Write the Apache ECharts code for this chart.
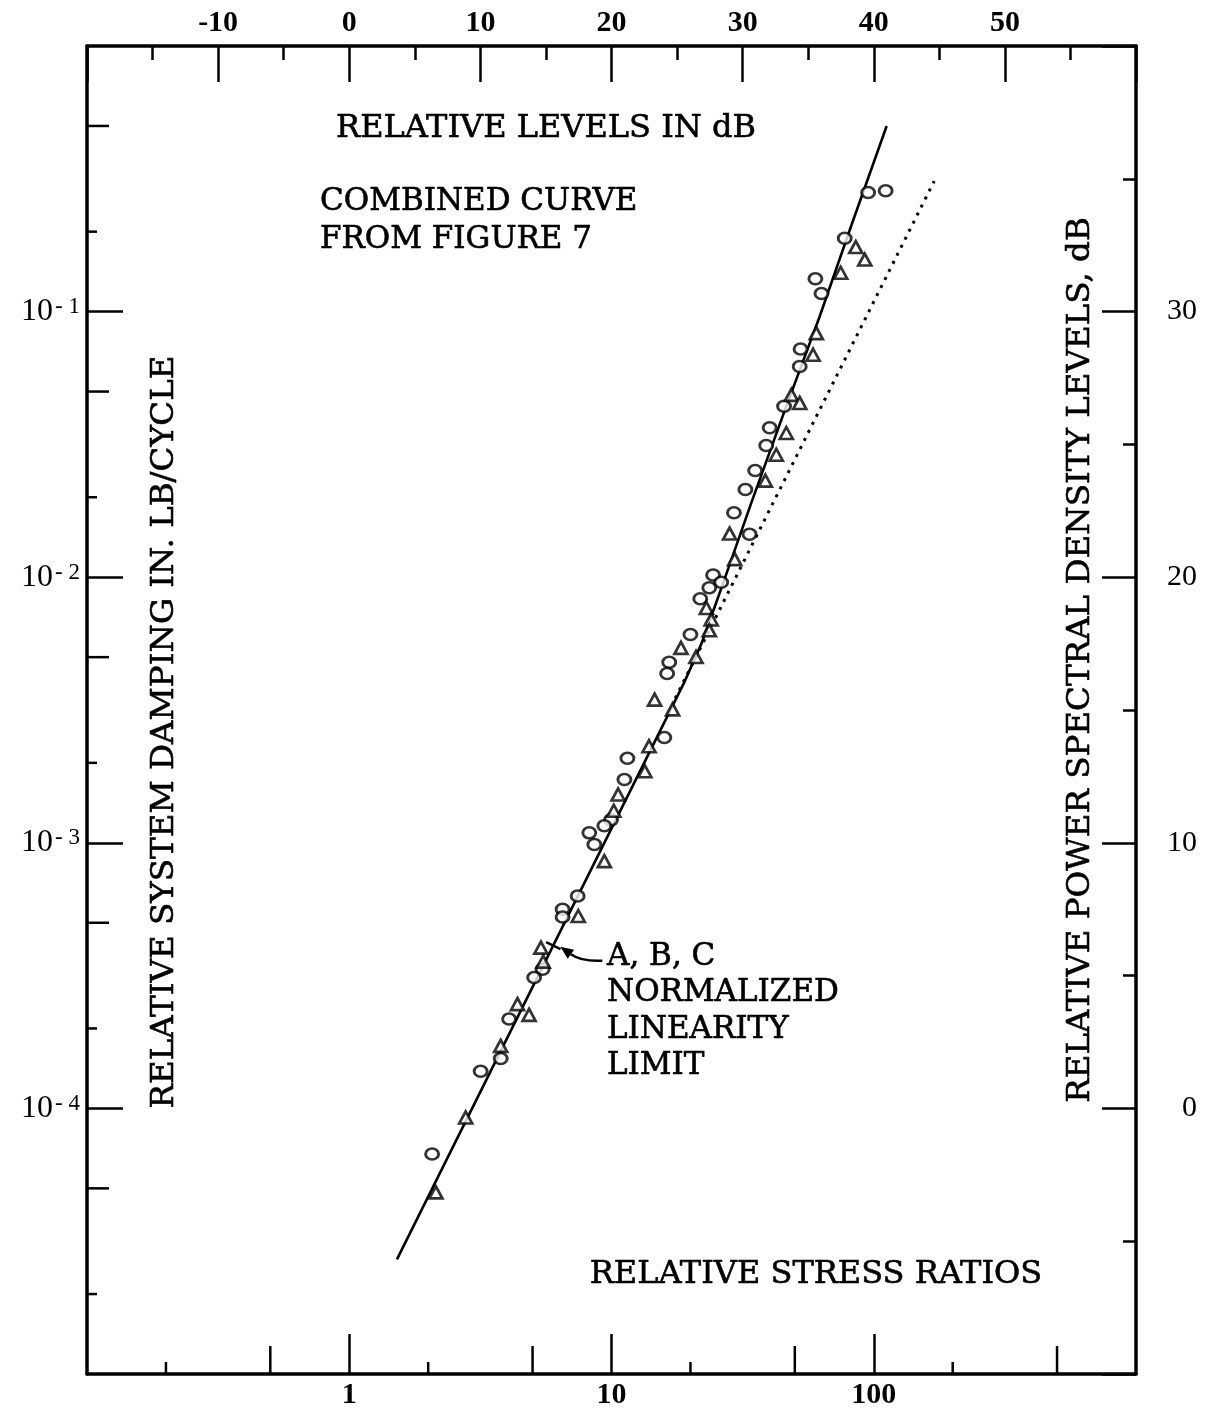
<!DOCTYPE html>
<html>
<head>
<meta charset="utf-8">
<script src="https://cdn.jsdelivr.net/npm/echarts@6/dist/echarts.min.js"></script>
<style>
  html, body { margin: 0; padding: 0; background: #ffffff; }
  #chart { width: 1216px; height: 1410px; }
</style>
</head>
<body>
<div id="chart"></div>
<script>
// Relative system damping versus relative stress ratio (log-log),
// with the equivalent dB scales on the top and right edges.

// Measured points, series 1 (open circles): [stress ratio, damping]
const circlePoints = [
  [95.2, 0.281], [111, 0.285], [77.5, 0.189], [59.9, 0.133], [63.2, 0.117],
  [52.6, 0.0723], [52.2, 0.0621], [45.5, 0.0440], [40.1, 0.0365], [38.9, 0.0313],
  [35.3, 0.0252], [32.4, 0.0214], [29.3, 0.0175], [33.6, 0.0145], [24.4, 0.0102],
  [26.2, 0.00957], [23.6, 0.00912], [21.8, 0.00829], [20.0, 0.00608], [16.6, 0.00478],
  [16.3, 0.00434], [15.9, 0.00249], [11.5, 0.00208], [11.2, 0.00173], [9.96, 0.00122],
  [9.39, 0.00116], [8.23, 0.00109], [8.60, 0.000986], [7.43, 0.000630], [6.51, 0.000562],
  [6.51, 0.000526], [5.46, 0.000334], [5.07, 0.000311], [4.07, 0.000217], [3.78, 0.000154],
  [3.17, 0.000138], [2.07, 0.0000673]
];

// Measured points, series 2 (open triangles): [stress ratio, damping]
const trianglePoints = [
  [85.4, 0.175], [92.4, 0.157], [74.8, 0.140], [60.4, 0.0830], [58.7, 0.0688],
  [48.5, 0.0486], [52.2, 0.0453], [46.4, 0.0349], [42.5, 0.0289], [38.6, 0.0231],
  [28.2, 0.0146], [29.5, 0.0117], [23.0, 0.00766], [24.0, 0.00693], [23.6, 0.00631],
  [18.4, 0.00542], [21.0, 0.00501], [14.6, 0.00346], [17.1, 0.00318], [13.9, 0.00231],
  [13.4, 0.00186], [10.6, 0.00152], [10.2, 0.00132], [9.39, 0.000853], [7.47, 0.000530],
  [5.38, 0.000403], [5.49, 0.000357], [4.38, 0.000247], [4.85, 0.000225], [3.78, 0.000172],
  [2.78, 0.0000924], [2.14, 0.0000483]
];

// Combined curve through the data
const combinedCurve = [
  [1.52, 2.7e-5], [18.9, 4.0e-3], [22.0, 5.6e-3], [25.5, 8.4e-3], [34.1, 1.9e-2],
  [45.6, 4.2e-2], [62, 9.5e-2], [82, 0.21], [112, 0.50]
];

// Straight (slope 2) continuation of the linear range
const linearExtension = [[17.5, 3.5e-3], [170, 0.31]];

// Normalized linearity limit marked on the curve
const linearityLimit = [6.0, 4.1e-4];

// Axis ranges
const stressRange = [0.1, 1000];     // bottom, log
const dampingRange = [1e-5, 1];      // left, log
const levelRange = [-20, 60];        // top, dB
const psdRange = [-10, 40];          // right, dB

// Intermediate tick values on the logarithmic axes
const stressMinorTicks = [0.2, 0.5, 2, 5, 20, 50, 200, 500];
const dampingMinorTicks = [2e-5, 5e-5, 2e-4, 5e-4, 2e-3, 5e-3, 2e-2, 5e-2, 2e-1, 5e-1];

const INK = '#000000';
const LABEL_FONT = '"Liberation Serif", "Times New Roman", serif';
const TEXT_FONT = '"DejaVu Serif", serif';

const chart = echarts.init(document.getElementById('chart'), null, { renderer: 'canvas' });

function mantissa(v) {
  const e = Math.floor(Math.log10(v) + 1e-9);
  return Math.round(v / Math.pow(10, e));
}

const axisLineStyle = { color: INK, width: 3.5 };
const tickLineStyle = { color: INK, width: 2.5 };

function caption(text, x, y, size, align, extra) {
  return Object.assign({
    type: 'text', x: x, y: y, silent: true,
    style: {
      text: text, font: size + 'px ' + TEXT_FONT, fill: INK,
      stroke: INK, lineWidth: 0.6,
      align: align, verticalAlign: 'middle'
    }
  }, extra || {});
}

const option = {
  backgroundColor: '#ffffff',
  animation: false,
  grid: { left: 87, right: 80, top: 46, bottom: 35, containLabel: false },
  xAxis: [
    {
      type: 'log', logBase: 10, position: 'bottom',
      min: stressRange[0], max: stressRange[1],
      axisLine: { show: true, onZero: false, lineStyle: axisLineStyle },
      axisTick: { show: true, inside: true, length: 40, lineStyle: tickLineStyle },
      splitLine: { show: false },
      axisLabel: {
        show: true, margin: 6, color: INK, fontSize: 30, fontWeight: 'bold', fontFamily: LABEL_FONT,
        showMinLabel: false, showMaxLabel: false,
        formatter: v => String(Math.round(v))
      }
    },
    {
      type: 'value', position: 'top',
      min: levelRange[0], max: levelRange[1], interval: 10,
      axisLine: { show: true, onZero: false, lineStyle: axisLineStyle },
      axisTick: { show: true, inside: true, length: 36, lineStyle: tickLineStyle },
      minorTick: { show: true, splitNumber: 2, length: 14, lineStyle: tickLineStyle },
      splitLine: { show: false },
      axisLabel: {
        show: true, margin: 8, color: INK, fontSize: 30, fontWeight: 'bold', fontFamily: LABEL_FONT,
        showMinLabel: false, showMaxLabel: false
      }
    }
  ],
  yAxis: [
    {
      type: 'log', logBase: 10, position: 'left',
      min: dampingRange[0], max: dampingRange[1],
      axisLine: { show: true, onZero: false, lineStyle: axisLineStyle },
      axisTick: { show: true, inside: true, length: 36, lineStyle: tickLineStyle },
      splitLine: { show: false },
      axisLabel: {
        show: true, margin: 7, color: INK, fontFamily: LABEL_FONT,
        showMinLabel: false, showMaxLabel: false,
        formatter: v => {
          const e = Math.round(Math.log10(v));
          return '{b|10}{s|' + (e < 0 ? '- ' + (-e) : String(e)) + '}';
        },
        rich: {
          b: { fontSize: 32, fontFamily: LABEL_FONT, color: INK, verticalAlign: 'bottom' },
          s: { fontSize: 23, fontFamily: LABEL_FONT, color: INK, verticalAlign: 'top', padding: [0, 0, 0, 2] }
        }
      }
    },
    {
      type: 'value', position: 'right',
      min: psdRange[0], max: psdRange[1], interval: 10,
      axisLine: { show: true, onZero: false, lineStyle: axisLineStyle },
      axisTick: { show: true, inside: true, length: 34, lineStyle: tickLineStyle },
      minorTick: { show: true, splitNumber: 2, length: 13, lineStyle: tickLineStyle },
      splitLine: { show: false },
      axisLabel: {
        show: true, margin: 61, align: 'right', color: INK, fontSize: 30, fontFamily: LABEL_FONT,
        showMinLabel: false, showMaxLabel: false
      }
    }
  ],
  graphic: [
    caption('RELATIVE LEVELS IN dB', 546, 129, 32, 'center'),
    caption('COMBINED CURVE', 320, 202, 31, 'left'),
    caption('FROM FIGURE 7', 320, 240, 31, 'left'),
    caption('RELATIVE STRESS RATIOS', 816, 1275, 32, 'center'),
    caption('A, B, C', 607, 957, 31, 'left'),
    caption('NORMALIZED', 607, 993, 31, 'left'),
    caption('LINEARITY', 607, 1030, 31, 'left'),
    caption('LIMIT', 607, 1066, 31, 'left'),
    caption('RELATIVE SYSTEM DAMPING IN. LB/CYCLE', 165, 732, 32.5, 'center', { rotation: Math.PI / 2 }),
    caption('RELATIVE POWER SPECTRAL DENSITY LEVELS, dB', 1081, 660, 32.5, 'center', { rotation: Math.PI / 2 })
  ],
  series: [
    {
      // intermediate ticks along the bottom (stress ratio) edge
      type: 'custom', xAxisIndex: 0, yAxisIndex: 0, silent: true, z: 5,
      data: stressMinorTicks.map(v => [v, dampingRange[0]]),
      renderItem: (params, api) => {
        const v = api.value(0);
        const p = api.coord([v, api.value(1)]);
        const len = mantissa(v) === 5 ? 28 : 12;
        return { type: 'line', shape: { x1: p[0], y1: p[1], x2: p[0], y2: p[1] - len },
                 style: { stroke: INK, lineWidth: 2.5 } };
      }
    },
    {
      // intermediate ticks along the left (damping) edge
      type: 'custom', xAxisIndex: 0, yAxisIndex: 0, silent: true, z: 5,
      data: dampingMinorTicks.map(v => [stressRange[0], v]),
      renderItem: (params, api) => {
        const v = api.value(1);
        const p = api.coord([api.value(0), v]);
        const len = mantissa(v) === 5 ? 22 : 10;
        return { type: 'line', shape: { x1: p[0], y1: p[1], x2: p[0] + len, y2: p[1] },
                 style: { stroke: INK, lineWidth: 2.5 } };
      }
    },
    {
      name: 'Combined curve', type: 'line', xAxisIndex: 0, yAxisIndex: 0,
      data: combinedCurve, showSymbol: false, smooth: false, silent: true, z: 2,
      lineStyle: { color: INK, width: 2.6 }
    },
    {
      name: 'Linear extension', type: 'line', xAxisIndex: 0, yAxisIndex: 0,
      data: linearExtension, showSymbol: false, silent: true, z: 2,
      lineStyle: { color: INK, width: 3, type: [3, 6] }
    },
    {
      name: 'Circles', type: 'scatter', xAxisIndex: 0, yAxisIndex: 0,
      data: circlePoints, symbol: 'circle', symbolSize: [13, 11], silent: true, z: 4,
      itemStyle: { color: '#ffffff', borderColor: INK, borderWidth: 2.7 }
    },
    {
      name: 'Triangles', type: 'scatter', xAxisIndex: 0, yAxisIndex: 0,
      data: trianglePoints, symbol: 'triangle', symbolSize: [13, 12], silent: true, z: 4,
      itemStyle: { color: '#ffffff', borderColor: INK, borderWidth: 2.7 }
    },
    {
      // linearity-limit mark with its pointer arrow
      type: 'custom', xAxisIndex: 0, yAxisIndex: 0, silent: true, z: 6,
      data: [linearityLimit],
      renderItem: (params, api) => {
        const p = api.coord([api.value(0), api.value(1)]);
        const q = api.coord([api.value(0) * 1.3, api.value(1) * Math.pow(1.3, 2)]);
        let dx = q[0] - p[0], dy = q[1] - p[1];
        const d = Math.hypot(dx, dy); dx /= d; dy /= d;
        const nx = -dy, ny = dx;
        const tip = [p[0] + 7, p[1] + 1];
        const tail = [p[0] + 49, p[1] + 15];
        const ctrl = [p[0] + 28, p[1] + 16];
        let ax = tip[0] - ctrl[0], ay = tip[1] - ctrl[1];
        const ad = Math.hypot(ax, ay); ax /= ad; ay /= ad;
        const hl = 13, hw = 5.5;
        const base = [tip[0] - ax * hl, tip[1] - ay * hl];
        return {
          type: 'group',
          children: [
            { type: 'line', shape: { x1: p[0] - nx * 8, y1: p[1] - ny * 8, x2: p[0] + nx * 8, y2: p[1] + ny * 8 },
              style: { stroke: INK, lineWidth: 2.5 } },
            { type: 'bezierCurve', shape: { x1: tail[0], y1: tail[1], cpx1: ctrl[0], cpy1: ctrl[1], x2: base[0], y2: base[1] },
              style: { stroke: INK, lineWidth: 2.5, fill: null } },
            { type: 'polygon', shape: { points: [tip, [base[0] - ay * hw, base[1] + ax * hw], [base[0] + ay * hw, base[1] - ax * hw]] },
              style: { fill: INK } }
          ]
        };
      }
    }
  ]
};

chart.setOption(option);
</script>
</body>
</html>
